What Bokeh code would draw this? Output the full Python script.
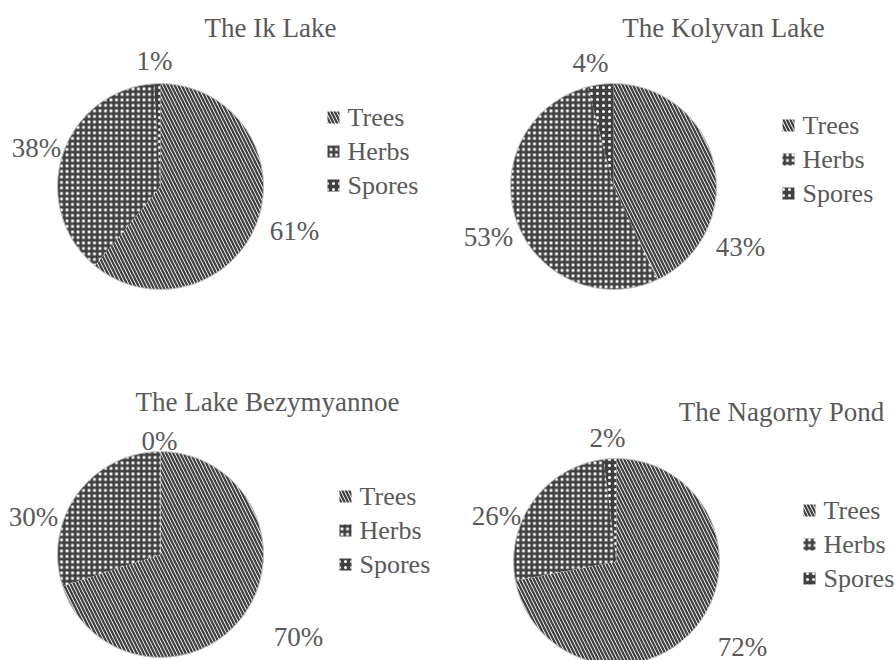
import math
from bokeh.plotting import figure
from bokeh.models import Range1d, ColumnDataSource
from bokeh.core.properties import value
from bokeh.embed import file_html
from bokeh.resources import INLINE

# ---------------- data ----------------
lakes = ["The Ik Lake", "The Kolyvan Lake", "The Lake Bezymyannoe", "The Nagorny Pond"]
categories = ["Trees", "Herbs", "Spores"]
trees = [61, 43, 70, 72]
herbs = [38, 53, 30, 26]
spores = [1, 4, 0, 2]
series = [trees, herbs, spores]

# ---------------- layout (reference pixel coordinates) ----------------
PAGE_W, PAGE_H = 895, 660
def Y(yref):
    return PAGE_H - yref

pie_cx = [160, 613, 160, 616]
pie_cy = [186, 186, 554, 561]
R = 103
title_pos = [(270, 27), (723, 27), (267, 401), (781, 411)]
# label anchors per pie, in category order (Trees, Herbs, Spores)
label_pos = [
    [(294, 230), (36, 147), (154, 60)],
    [(740, 246), (488, 236), (590, 62)],
    [(298, 636), (33, 516), (159, 440)],
    [(742, 646), (496, 515), (607, 437)],
]
legend_x = [327, 782, 339, 803]
legend_y0 = [117, 125, 496, 510]
legend_dy = 34

FONT = value("Liberation Serif")
TXT = "#595959"
DARK = "#404040"

styles = {
    "Trees": dict(fill_color="white", hatch_pattern="left_diagonal_line",
                  hatch_color=DARK, hatch_scale=7, hatch_weight=2.3),
    "Herbs": dict(fill_color="white", hatch_pattern="cross",
                  hatch_color=DARK, hatch_scale=5.5, hatch_weight=2.8),
    "Spores": dict(fill_color=DARK, hatch_pattern="dot",
                   hatch_color="white", hatch_scale=6, hatch_weight=2),
}

p = figure(width=PAGE_W, height=PAGE_H, x_range=Range1d(0, PAGE_W), y_range=Range1d(0, PAGE_H),
           output_backend="svg", toolbar_location=None, min_border=0)
p.axis.visible = False
p.grid.visible = False
p.outline_line_color = None
p.background_fill_color = "white"
p.border_fill_color = "white"

# wedges
for ci, cat in enumerate(categories):
    xs, ys, st, en = [], [], [], []
    for li in range(len(lakes)):
        vals = [s[li] for s in series]
        tot = float(sum(vals))
        f0 = sum(vals[:ci]) / tot
        f1 = f0 + vals[ci] / tot
        if vals[ci] <= 0:
            continue
        xs.append(pie_cx[li]); ys.append(Y(pie_cy[li]))
        st.append(math.pi / 2 - 2 * math.pi * f1)
        en.append(math.pi / 2 - 2 * math.pi * f0)
    src = ColumnDataSource(dict(x=xs, y=ys, start=st, end=en))
    p.wedge(x="x", y="y", radius=R, start_angle="start", end_angle="end", source=src,
            line_color=None, **styles[cat])

# outline
p.circle(x=pie_cx, y=[Y(v) for v in pie_cy], radius=R, fill_color=None,
         line_color="#bfbfbf", line_width=1)

# titles
p.text(x=[t[0] for t in title_pos], y=[Y(t[1]) for t in title_pos], text=lakes,
       text_font=FONT, text_font_size="27px", text_color=TXT,
       text_align="center", text_baseline="middle")

# percentage labels
lx, ly, lt = [], [], []
for li in range(len(lakes)):
    for ci in range(len(categories)):
        lx.append(label_pos[li][ci][0]); ly.append(Y(label_pos[li][ci][1]))
        lt.append(f"{series[ci][li]}%")
p.text(x=lx, y=ly, text=lt, text_font=FONT, text_font_size="27px", text_color=TXT,
       text_align="center", text_baseline="middle")

# legends
for ci, cat in enumerate(categories):
    rx = [legend_x[li] + 6 for li in range(len(lakes))]
    ry = [Y(legend_y0[li] + ci * legend_dy) for li in range(len(lakes))]
    p.rect(x=rx, y=ry, width=12, height=12, line_color=None, **styles[cat])
    p.text(x=[legend_x[li] + 20 for li in range(len(lakes))], y=ry, text=[cat] * len(lakes),
           text_font=FONT, text_font_size="26px", text_color=TXT,
           text_align="left", text_baseline="middle")

open("out.html", "w").write(file_html(p, INLINE))
